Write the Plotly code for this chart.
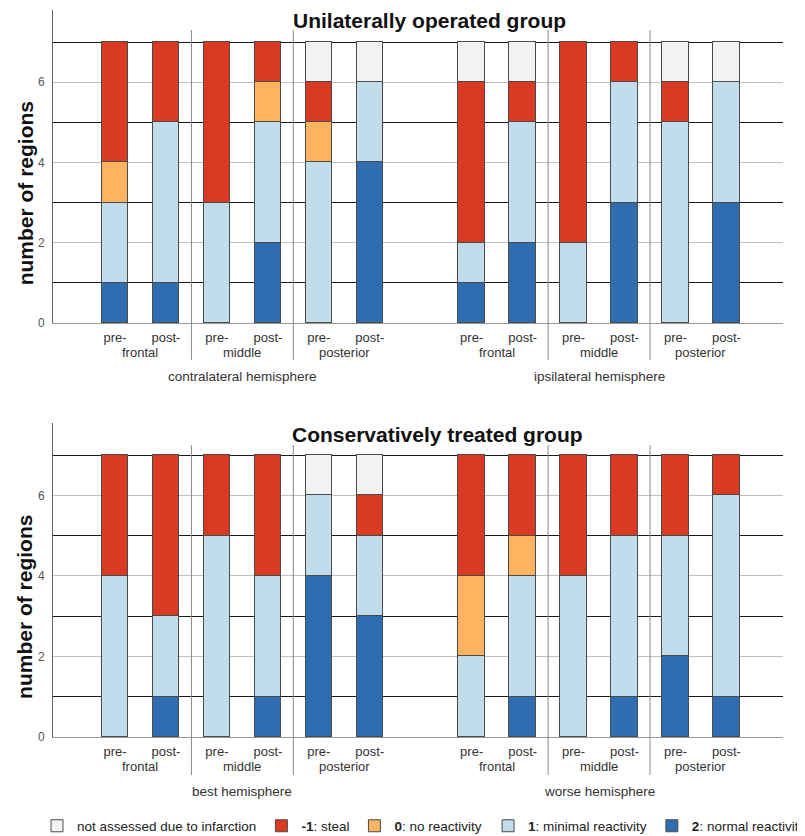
import plotly.graph_objects as go

# ---------------- data ----------------
bar_labels = ["pre-", "post-"] * 6
regions = ["frontal", "middle", "posterior"]
bar_pos = [0, 1, 2, 3, 4, 5, 7, 8, 9, 10, 11, 12]
y_ticks = [0, 2, 4, 6]

top_title = "Unilaterally operated group"
top_hemispheres = ["contralateral hemisphere", "ipsilateral hemisphere"]
bottom_title = "Conservatively treated group"
bottom_hemispheres = ["best hemisphere", "worse hemisphere"]

# counts per bar (12 bars: 6 per hemisphere)
top_normal = [1, 1, 0, 2, 0, 4, 1, 2, 0, 3, 0, 3]
top_minimal = [2, 4, 3, 3, 4, 2, 1, 3, 2, 3, 5, 3]
top_noreact = [1, 0, 0, 1, 1, 0, 0, 0, 0, 0, 0, 0]
top_steal = [3, 2, 4, 1, 1, 0, 4, 1, 5, 1, 1, 0]
top_notassessed = [0, 0, 0, 0, 1, 1, 1, 1, 0, 0, 1, 1]

bottom_normal = [0, 1, 0, 1, 4, 3, 0, 1, 0, 1, 2, 1]
bottom_minimal = [4, 2, 5, 3, 2, 2, 2, 3, 4, 4, 3, 5]
bottom_noreact = [0, 0, 0, 0, 0, 0, 2, 1, 0, 0, 0, 0]
bottom_steal = [3, 4, 2, 3, 0, 1, 3, 2, 3, 2, 2, 1]
bottom_notassessed = [0, 0, 0, 0, 1, 1, 0, 0, 0, 0, 0, 0]

# categories in stacking order (bottom -> top)
cat_names = ["<b>2</b>: normal reactivity", "<b>1</b>: minimal reactivity",
             "<b>0</b>: no reactivity", "<b>-1</b>: steal",
             "not assessed due to infarction"]
cat_colors = ["#2F6DB1", "#C1DDEB", "#FDB35F", "#D93A21", "#F2F2F2"]
cat_rank = [5, 4, 3, 2, 1]
cat_legend = ["legend2", "legend2", "legend", "legend", "legend"]

top_series = [top_normal, top_minimal, top_noreact, top_steal, top_notassessed]
bottom_series = [bottom_normal, bottom_minimal, bottom_noreact, bottom_steal, bottom_notassessed]

FONT = "Liberation Sans, Arial, sans-serif"

fig = go.Figure()

for panel, series in enumerate([top_series, bottom_series]):
    xa = "x" if panel == 0 else "x2"
    ya = "y" if panel == 0 else "y2"
    for i, vals in enumerate(series):
        fig.add_trace(go.Bar(
            x=bar_pos,
            y=[v if v else None for v in vals],
            name=cat_names[i],
            marker=dict(color=cat_colors[i], line=dict(color="#4a4a4a", width=1)),
            width=0.52,
            xaxis=xa, yaxis=ya,
            showlegend=(panel == 0),
            legend=cat_legend[i],
            legendrank=cat_rank[i],
            hoverinfo="skip",
        ))

axis_common_x = dict(
    range=[-1.217, 13.11],
    tickmode="array", tickvals=bar_pos, ticktext=bar_labels,
    tickfont=dict(family=FONT, size=13, color="#333"),
    showgrid=False, zeroline=False, ticks="",
    showline=True, linecolor="#999", linewidth=1,
    ticklabelstandoff=2,
)
axis_common_y = dict(
    range=[0, 7.8],
    tickmode="array", tickvals=y_ticks,
    tickfont=dict(family=FONT, size=12, color="#555"),
    showgrid=True, gridcolor="#c0c0c0", gridwidth=1,
    minor=dict(tickvals=[1, 3, 5, 7], showgrid=True, gridcolor="#1a1a1a", gridwidth=1.3, ticks=""),
    zeroline=False, ticks="",
    showline=True, linecolor="#666", linewidth=1,
    ticklabelstandoff=5,
)

legend_font = dict(family=FONT, size=13.5, color="#222")
fig.update_layout(
    width=797, height=828,
    margin=dict(l=45, r=22, t=2, b=99, autoexpand=False),
    plot_bgcolor="white", paper_bgcolor="white",
    barmode="stack",
    bargap=0,
    xaxis=dict(domain=[0, 1], anchor="y", **axis_common_x),
    yaxis=dict(domain=[0.5695, 1], anchor="x", **axis_common_y),
    xaxis2=dict(domain=[0, 1], anchor="y2", **axis_common_x),
    yaxis2=dict(domain=[0, 0.4319], anchor="x2", **axis_common_y),
    legend=dict(
        orientation="h", x=-0.0219, xanchor="left", y=-0.1224, yanchor="middle",
        font=legend_font, traceorder="normal", itemclick=False,
        bgcolor="rgba(0,0,0,0)",
    ),
    legend2=dict(
        orientation="h", x=0.596, xanchor="left", y=-0.1224, yanchor="middle",
        font=legend_font, traceorder="normal", itemclick=False,
        bgcolor="rgba(0,0,0,0)",
    ),
    showlegend=True,
)

# separators between region pairs
sep_x = [(bar_pos[1] + bar_pos[2]) / 2, (bar_pos[3] + bar_pos[4]) / 2,
         (bar_pos[7] + bar_pos[8]) / 2, (bar_pos[9] + bar_pos[10]) / 2]
shapes = []
for xr, yr, d0, d1 in [("x", "y domain", -0.118, 0.936), ("x2", "y2 domain", -0.121, 0.930)]:
    for sx in sep_x:
        shapes.append(dict(type="line", xref=xr, yref=yr, x0=sx, x1=sx, y0=d0, y1=d1,
                           line=dict(color="#8a8a8a", width=1), layer="above"))
fig.update_layout(shapes=shapes)

annotations = []
panels = [("x", "y", top_title, top_hemispheres, 6.17, 0.9674, -0.0958, -0.1725),
          ("x2", "y2", bottom_title, bottom_hemispheres, 6.33, 0.963, -0.0955, -0.172)]
for xr, yr, title, hemis, tx, ty, gy, hy in panels:
    annotations.append(dict(text="<b>%s</b>" % title, xref=xr, yref=yr + " domain",
                            x=tx, y=ty,
                            showarrow=False, xanchor="center", yanchor="middle",
                            font=dict(family=FONT, size=21, color="#111")))
    annotations.append(dict(text="<b>number of regions</b>", xref="paper", yref=yr,
                            x=-0.0384, y=3.23, textangle=-90, showarrow=False,
                            xanchor="center", yanchor="middle",
                            font=dict(family=FONT, size=21, color="#111")))
    for h in range(2):
        for r in range(3):
            p0 = bar_pos[h * 6 + r * 2]
            p1 = bar_pos[h * 6 + r * 2 + 1]
            annotations.append(dict(text=regions[r], xref=xr, yref=yr + " domain",
                                    x=(p0 + p1) / 2, y=gy, showarrow=False,
                                    xanchor="center", yanchor="middle",
                                    font=dict(family=FONT, size=13, color="#333")))
        annotations.append(dict(text=hemis[h], xref=xr, yref=yr + " domain",
                                x=(bar_pos[h * 6] + bar_pos[h * 6 + 5]) / 2, y=hy,
                                showarrow=False, xanchor="center", yanchor="middle",
                                font=dict(family=FONT, size=13.5, color="#333")))
fig.update_layout(annotations=annotations)

fig.write_html("out.html")
